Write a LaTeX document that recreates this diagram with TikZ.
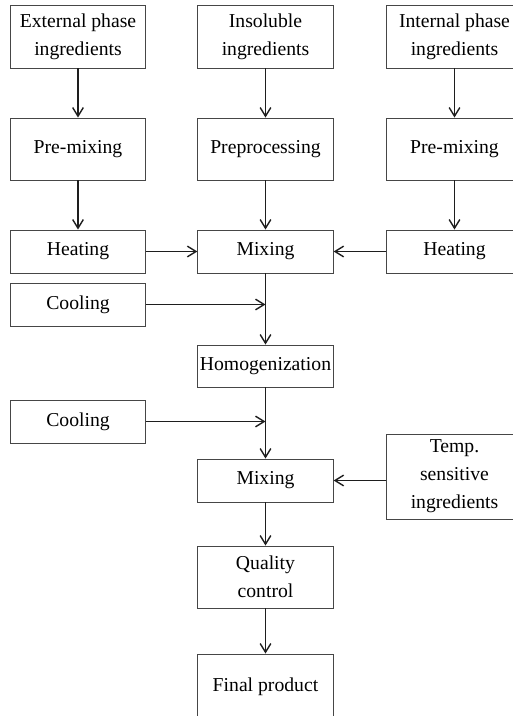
\documentclass[tikz,border=0pt]{standalone}
\usepackage{fontspec}
\setmainfont{Liberation Serif}
\usepackage{tikz}
\usetikzlibrary{arrows.meta, positioning, calc}
\definecolor{boxline}{RGB}{70, 70, 70}
\definecolor{flowline}{RGB}{30, 30, 30}

\tikzset{
    stepbox/.style={draw=boxline, line width=0.8pt, rectangle, align=center,
        minimum width=4.06cm, inner sep=2pt,
        font=\fontsize{16.8}{24}\selectfont},
    flow/.style={draw=flowline, line width=1.2pt,
        -{Straight Barb[length=2.6mm, width=3.2mm, line width=1.2pt]}}
}

\begin{document}
\begin{tikzpicture}[x=0.03cm, y=-0.03cm]
    \clip (0,0) rectangle (513,716);

    % Top row: ingredients
    \node[stepbox, minimum height=1.89cm] (ext) at (78,36.5) {External phase\\ingredients};
    \node[stepbox, minimum height=1.89cm] (ins) at (265.5,36.5) {Insoluble\\ingredients};
    \node[stepbox, minimum height=1.89cm] (int) at (454.5,36.5) {Internal phase\\ingredients};

    % Second row
    \node[stepbox, minimum height=1.86cm] (pre1) at (78,149) {Pre-mixing};
    \node[stepbox, minimum height=1.86cm] (prep) at (265.5,149) {Preprocessing};
    \node[stepbox, minimum height=1.86cm] (pre2) at (454.5,149) {Pre-mixing};

    % Third row
    \node[stepbox, minimum height=1.29cm] (heat1) at (78,251.5) {Heating};
    \node[stepbox, minimum height=1.29cm] (mix1) at (265.5,251.5) {Mixing};
    \node[stepbox, minimum height=1.29cm] (heat2) at (454.5,251.5) {Heating};

    % Main line
    \node[stepbox, minimum height=1.29cm] (cool1) at (78,304.5) {Cooling};
    \node[stepbox, minimum height=1.26cm] (homog) at (265.5,366) {Homogenization};
    \node[stepbox, minimum height=1.29cm] (cool2) at (78,421.5) {Cooling};
    \node[stepbox, minimum height=1.29cm] (mix2) at (265.5,480.5) {Mixing};
    \node[stepbox, minimum height=2.55cm] (temp) at (454.5,476.5) {Temp.\\sensitive\\ingredients};
    \node[stepbox, minimum height=1.86cm] (qc) at (265.5,577) {Quality\\control};
    \node[stepbox, minimum height=1.98cm] (final) at (265.5,687) {Final product};

    % Connectors
    \draw[flow] (ext) -- (pre1);
    \draw[flow] (ins) -- (prep);
    \draw[flow] (int) -- (pre2);
    \draw[flow] (pre1) -- (heat1);
    \draw[flow] (prep) -- (mix1);
    \draw[flow] (pre2) -- (heat2);
    \draw[flow] (heat1) -- (mix1);
    \draw[flow] (heat2) -- (mix1);
    \draw[flow] (mix1) -- (homog);
    \draw[flow] (cool1.east) -- (cool1.east -| mix1.south);
    \draw[flow] (homog) -- (mix2);
    \draw[flow] (cool2.east) -- (cool2.east -| homog.south);
    \draw[flow] (temp.west |- mix2.east) -- (mix2.east);
    \draw[flow] (mix2) -- (qc);
    \draw[flow] (qc) -- (final);
\end{tikzpicture}
\end{document}
